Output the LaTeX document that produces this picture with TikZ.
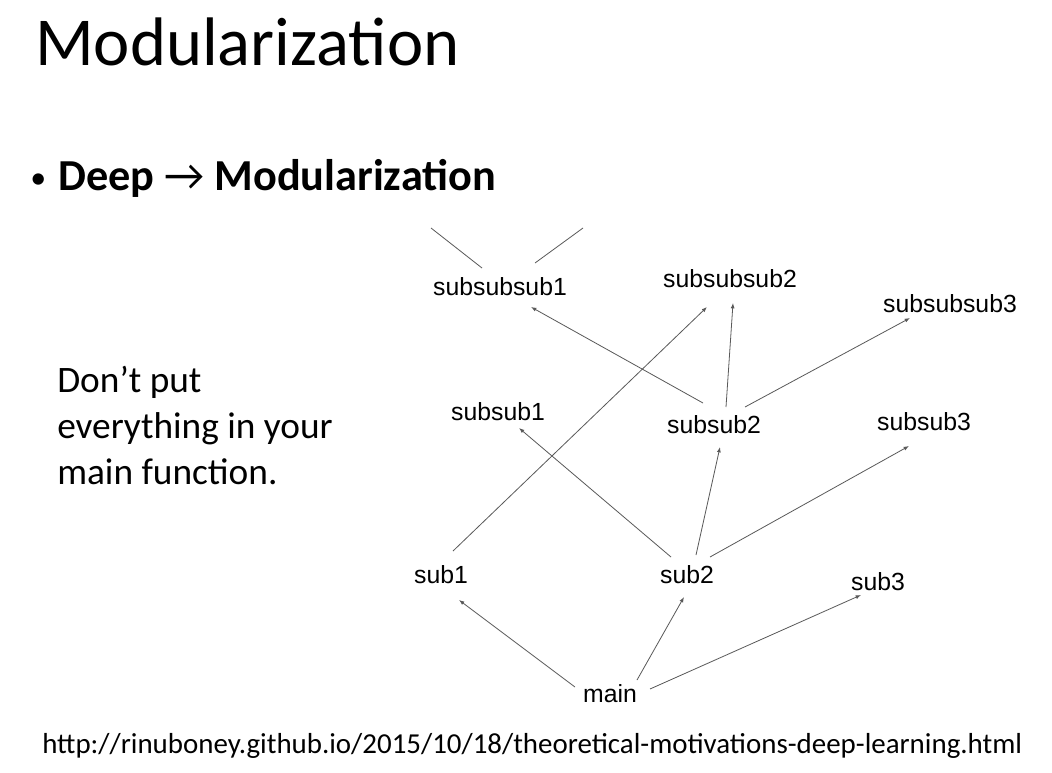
\documentclass[tikz,border=0pt]{standalone}
\usepackage{fontspec}
\setmainfont{Carlito}
\newfontfamily\arialf{Liberation Sans}
\usetikzlibrary{arrows.meta}
\begin{document}
\begin{tikzpicture}[x=0.75pt,y=-0.75pt,
  lbl/.style={font=\arialf\fontsize{18.6}{20}\selectfont, inner sep=0, anchor=base},
  edge/.style={draw=black!65, line width=0.6pt, -{Latex[length=4pt,width=3pt]}},
  plainline/.style={draw=black!65, line width=0.6pt},
  txt/.style={inner sep=0, anchor=base west},
  notefont/.style={font=\fontsize{28}{34.5}\selectfont}]
\useasboundingbox[fill=white] (0,0) rectangle (1052,772);
% texts
\node[txt, font=\fontsize{51.5}{58}\selectfont] (title) at (35,65) {Modularization};
\node[txt, font=\fontsize{24}{28}\selectfont] (bullet) at (30,188) {•};
\node[txt, font=\fontsize{33.2}{40}\selectfont] (point) at (58,190) {\textbf{Deep} → \textbf{Modularization}};
\node[txt, notefont] (note1) at (57,392) {Don’t put};
\node[txt, notefont] (note2) at (57,438) {everything in your};
\node[txt, notefont] (note3) at (57,484) {main function.};
\node[txt, font=\fontsize{21.7}{25}\selectfont] (url) at (42,753) {http://rinuboney.github.io/2015/10/18/theoretical-motivations-deep-learning.html};
% graph nodes
\node[lbl] (sss1) at (500,295) {subsubsub1};
\node[lbl] (sss2) at (730,287) {subsubsub2};
\node[lbl] (sss3) at (950,312) {subsubsub3};
\node[lbl] (ss1) at (498,420) {subsub1};
\node[lbl] (ss2) at (714,433) {subsub2};
\node[lbl] (ss3) at (924,430) {subsub3};
\node[lbl] (s1) at (441,583) {sub1};
\node[lbl] (s2) at (687,583) {sub2};
\node[lbl] (s3) at (878,590) {sub3};
\node[lbl] (main) at (610,702) {main};
\coordinate (upL) at (431,228);
\coordinate (upR) at (583,228);
% edges
\draw[edge] ([shift={(-35,-15)}]main.base) -- ([shift={(18,17)}]s1.base);
\draw[edge] ([shift={(27,-22)}]main.base) -- ([shift={(-3,14)}]s2.base);
\draw[edge] ([shift={(40,-13)}]main.base) -- ([shift={(-17,5)}]s3.base);
\draw[edge] ([shift={(12,-32)}]s1.base) -- ([shift={(-23,20)}]sss2.base);
\draw[edge] ([shift={(-16,-26)}]s2.base) -- ([shift={(21,8)}]ss1.base);
\draw[edge] ([shift={(9,-28)}]s2.base) -- ([shift={(6,14)}]ss2.base);
\draw[edge] ([shift={(23,-26)}]s2.base) -- ([shift={(-15,16)}]ss3.base);
\draw[edge] ([shift={(-11,-30)}]ss2.base) -- ([shift={(31,12)}]sss1.base);
\draw[edge] ([shift={(12,-26)}]ss2.base) -- ([shift={(3,16)}]sss2.base);
\draw[edge] ([shift={(31,-26)}]ss2.base) -- ([shift={(-40,6)}]sss3.base);
\draw[plainline] ([shift={(-18,-27)}]sss1.base) -- (upL);
\draw[plainline] ([shift={(35,-32)}]sss1.base) -- (upR);
\end{tikzpicture}
\end{document}
